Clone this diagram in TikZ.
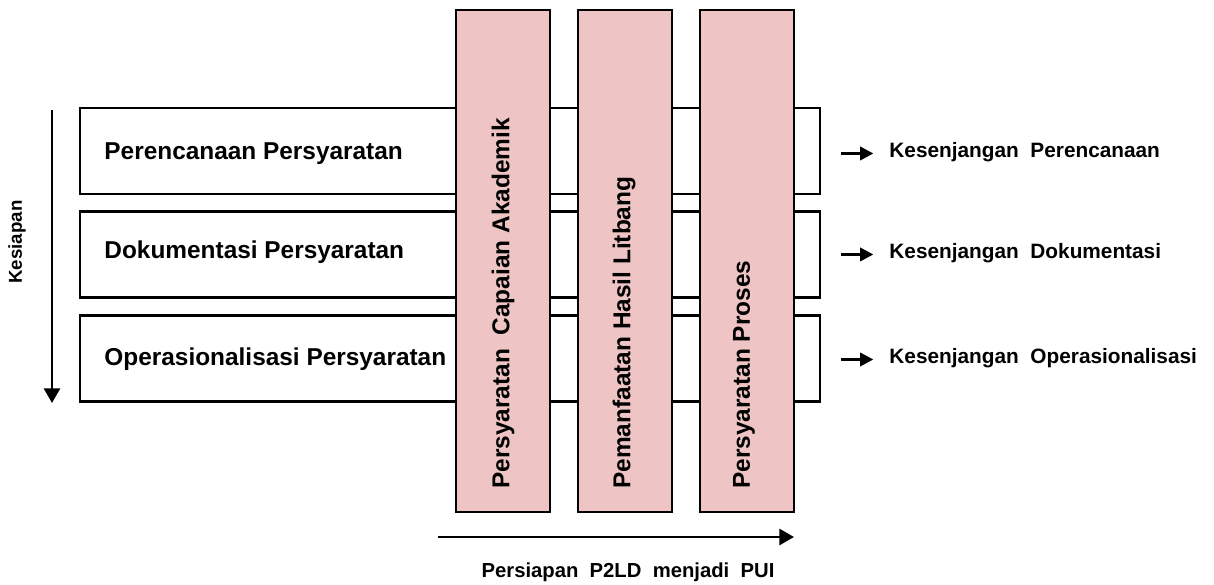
\documentclass[tikz,border=0pt]{standalone}
\usepackage{fontspec}
\setmainfont{Liberation Sans}
\usetikzlibrary{arrows.meta}
\definecolor{pillarpink}{RGB}{238,196,196}

\tikzset{every picture/.style={line width=2.2pt}}
\tikzset{
  rowbox/.style={draw=black, fill=white, minimum width=555pt, minimum height=64.5pt, inner sep=0pt},
  pillarbox/.style={draw=black, fill=pillarpink, minimum width=70.5pt, minimum height=376.5pt, inner sep=0pt},
  rowtext/.style={anchor=base west, inner sep=0pt, font=\fontsize{18.3}{22}\selectfont\bfseries},
  pillartext/.style={anchor=west, rotate=90, inner sep=0pt, font=\fontsize{18.3}{22}\selectfont\bfseries},
  gaptext/.style={anchor=base west, inner sep=0pt, font=\fontsize{15.6}{19}\selectfont\bfseries},
  gaparrow/.style={line width=2.2pt, -{Triangle[length=10pt,width=10pt]}, shorten <=15pt, shorten >=11pt},
  bigarrow/.style={line width=2.2pt, -{Triangle[length=11pt,width=12pt]}}
}

\begin{document}
\begin{tikzpicture}[x=0.75pt,y=0.75pt,yscale=-1,xscale=1]
\useasboundingbox (0,0) rectangle (1214,585);

% Rows
\node[rowbox] (plan) at (450,151) {};
\node[rowbox] (doc) at (450,254.5) {};
\node[rowbox] (ops) at (450,358.5) {};

% Row texts
\node[rowtext] (planT) at (103,159) {Perencanaan Persyaratan};
\node[rowtext] (docT) at (103,258) {Dokumentasi Persyaratan};
\node[rowtext] (opsT) at (103,365) {Operasionalisasi Persyaratan};

% Pillars
\node[pillarbox] (capaian) at (503,261) {};
\node[pillarbox] (litbang) at (625,261) {};
\node[pillarbox] (proses) at (747,261) {};

% Pillar texts
\node[pillartext] (capaianT) at (503,490) {Persyaratan\ \ Capaian Akademik};
\node[pillartext] (litbangT) at (624,490) {Pemanfaatan Hasil Litbang};
\node[pillartext] (prosesT) at (744,490) {Persyaratan Proses};

% Gaps
\node[gaptext] (gapPlan) at (888,157) {Kesenjangan\ \ Perencanaan};
\node[gaptext] (gapDoc) at (888,258) {Kesenjangan\ \ Dokumentasi};
\node[gaptext] (gapOps) at (888,363) {Kesenjangan\ \ Operasionalisasi};

\draw[gaparrow] (plan.east |- gapPlan.mid west) -- (gapPlan.mid west);
\draw[gaparrow] (doc.east |- gapDoc.mid west) -- (gapDoc.mid west);
\draw[gaparrow] (ops.east |- gapOps.mid west) -- (gapOps.mid west);

% Kesiapan axis
\coordinate (kTop) at (52,110);
\coordinate (kBot) at (52,403);
\draw[bigarrow] (kTop) -- (kBot);
\node[anchor=center, rotate=90, inner sep=0pt, font=\fontsize{14}{17}\selectfont\bfseries] (kesiapan) at (17,242) {Kesiapan};

% Persiapan axis
\coordinate (pStart) at (438,537);
\coordinate (pEnd) at (794,537);
\draw[bigarrow] (pStart) -- (pEnd);
\node[inner sep=0pt, font=\fontsize{15.2}{18}\selectfont\bfseries] (persiapan) at (628,572) {Persiapan\ \ P2LD\ \ menjadi\ \ PUI};

\end{tikzpicture}
\end{document}
